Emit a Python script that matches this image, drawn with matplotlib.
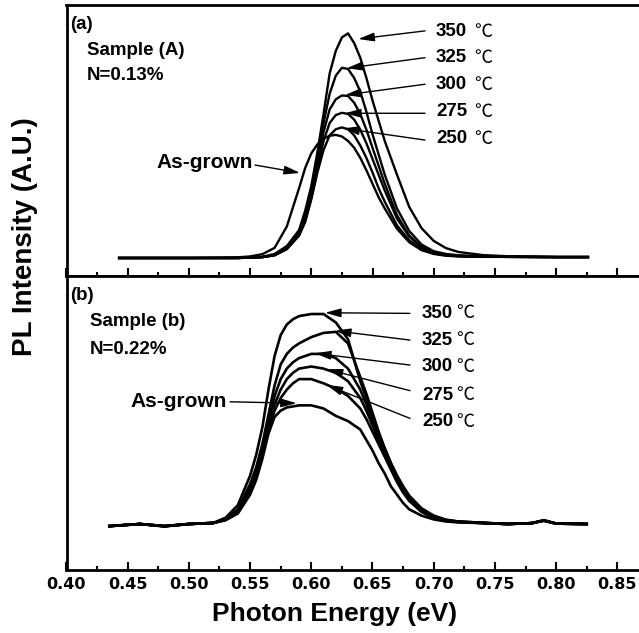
import matplotlib
matplotlib.use('Agg')
import matplotlib.pyplot as plt
from matplotlib.ticker import MultipleLocator

plt.rcParams['font.family'] = ['Liberation Sans', 'DejaVu Sans']
plt.rcParams['font.weight'] = 'bold'

# ---------------- data ----------------
temps = ['350', '325', '300', '275', '250']

# panel (a): Sample (A), N=0.13%
xt = [0.443, 0.50, 0.54, 0.55, 0.56, 0.57, 0.58, 0.59, 0.595, 0.60, 0.605, 0.61,
      0.615, 0.62, 0.625, 0.63, 0.635, 0.64, 0.645, 0.65, 0.655, 0.66, 0.67, 0.68,
      0.69, 0.70, 0.71, 0.72, 0.74, 0.76, 0.80, 0.826]
t350 = [0, 0, 0, 0.002, 0.005, 0.018, 0.053, 0.124, 0.21, 0.32, 0.47, 0.64, 0.82, 0.92,
        0.98, 0.998, 0.955, 0.89, 0.80, 0.70, 0.61, 0.52, 0.37, 0.227, 0.133, 0.076,
        0.044, 0.027, 0.013, 0.008, 0.005, 0.005]
t325 = [0, 0, 0, 0.002, 0.004, 0.014, 0.045, 0.11, 0.18, 0.29, 0.44, 0.60, 0.73, 0.81,
        0.845, 0.84, 0.80, 0.74, 0.65, 0.55, 0.46, 0.37, 0.22, 0.12, 0.06, 0.03, 0.018,
        0.012, 0.008, 0.006, 0.004, 0.004]
t300 = [0, 0, 0, 0.002, 0.004, 0.013, 0.04, 0.105, 0.17, 0.28, 0.42, 0.56, 0.66, 0.705,
        0.722, 0.72, 0.69, 0.64, 0.57, 0.49, 0.41, 0.33, 0.19, 0.10, 0.05, 0.026, 0.015,
        0.01, 0.006, 0.005, 0.004, 0.004]
t275 = [0, 0, 0, 0.002, 0.004, 0.012, 0.04, 0.10, 0.165, 0.27, 0.40, 0.52, 0.60, 0.635,
        0.645, 0.64, 0.615, 0.57, 0.51, 0.44, 0.37, 0.30, 0.175, 0.095, 0.048, 0.024,
        0.014, 0.009, 0.006, 0.005, 0.004, 0.004]
t250 = [0, 0, 0, 0.002, 0.004, 0.012, 0.04, 0.10, 0.16, 0.26, 0.38, 0.48, 0.545, 0.572,
        0.58, 0.572, 0.545, 0.50, 0.445, 0.38, 0.31, 0.25, 0.145, 0.078, 0.04, 0.02,
        0.012, 0.008, 0.006, 0.005, 0.004, 0.004]
tAG = [0, 0, 0.003, 0.007, 0.017, 0.045, 0.14, 0.31, 0.40, 0.465, 0.505, 0.53, 0.543, 0.547,
       0.54, 0.52, 0.49, 0.445, 0.39, 0.33, 0.27, 0.22, 0.13, 0.07, 0.035, 0.018, 0.01,
       0.007, 0.005, 0.005, 0.004, 0.004]

# panel (b): Sample (b), N=0.22%
xb = [0.435, 0.46, 0.48, 0.50, 0.52, 0.53, 0.54, 0.55, 0.555, 0.56, 0.565, 0.57, 0.575,
      0.58, 0.585, 0.59, 0.60, 0.61, 0.62, 0.63, 0.64, 0.645, 0.65, 0.655, 0.66, 0.665,
      0.67, 0.675, 0.68, 0.69, 0.70, 0.71, 0.72, 0.74, 0.76, 0.78, 0.79, 0.80, 0.825]
b350 = [-0.01, 0.0, -0.012, 0.0, 0.005, 0.03, 0.09, 0.23, 0.33, 0.46, 0.64, 0.80, 0.90,
        0.95, 0.975, 0.99, 1.0, 1.0, 0.96, 0.88, 0.68, 0.60, 0.50, 0.43, 0.36, 0.29, 0.23,
        0.175, 0.13, 0.07, 0.038, 0.02, 0.012, 0.006, 0.0, 0.004, 0.018, 0.002, 0.0]
b325 = [-0.01, 0.0, -0.01, 0.0, 0.005, 0.025, 0.07, 0.19, 0.27, 0.38, 0.52, 0.66, 0.76,
        0.81, 0.84, 0.86, 0.89, 0.91, 0.915, 0.86, 0.70, 0.62, 0.53, 0.44, 0.36, 0.29,
        0.23, 0.18, 0.135, 0.075, 0.04, 0.02, 0.012, 0.006, 0.0, 0.004, 0.018, 0.002, 0.0]
b300 = [-0.01, 0.0, -0.01, 0.0, 0.005, 0.022, 0.065, 0.18, 0.26, 0.36, 0.49, 0.61, 0.69,
        0.74, 0.77, 0.79, 0.81, 0.81, 0.79, 0.74, 0.64, 0.57, 0.49, 0.41, 0.34, 0.27,
        0.21, 0.16, 0.12, 0.065, 0.035, 0.018, 0.01, 0.005, 0.0, 0.004, 0.016, 0.002, 0.0]
b275 = [-0.01, 0.0, -0.01, 0.0, 0.005, 0.02, 0.06, 0.17, 0.25, 0.35, 0.47, 0.57, 0.64,
        0.69, 0.72, 0.74, 0.75, 0.74, 0.72, 0.68, 0.60, 0.54, 0.47, 0.40, 0.33, 0.265,
        0.205, 0.155, 0.115, 0.06, 0.032, 0.016, 0.01, 0.005, 0.0, 0.004, 0.016, 0.002, 0.0]
b250 = [-0.01, 0.0, -0.01, 0.0, 0.005, 0.02, 0.055, 0.16, 0.24, 0.34, 0.45, 0.54, 0.60,
        0.64, 0.67, 0.69, 0.69, 0.67, 0.645, 0.61, 0.55, 0.50, 0.44, 0.38, 0.32, 0.26,
        0.20, 0.15, 0.11, 0.058, 0.03, 0.015, 0.009, 0.005, 0.0, 0.004, 0.016, 0.002, 0.0]
bAG = [-0.01, 0.0, -0.01, 0.0, 0.005, 0.018, 0.05, 0.14, 0.21, 0.31, 0.43, 0.51, 0.54,
       0.555, 0.56, 0.565, 0.565, 0.55, 0.515, 0.49, 0.45, 0.40, 0.35, 0.29, 0.24, 0.18,
       0.14, 0.10, 0.07, 0.04, 0.022, 0.012, 0.008, 0.004, 0.0, 0.004, 0.016, 0.002, 0.0]

tick_values = [0.40, 0.45, 0.50, 0.55, 0.60, 0.65, 0.70, 0.75, 0.80, 0.85]
tick_labels = ['0.40', '0.45', '0.50', '0.55', '0.60', '0.65', '0.70', '0.75', '0.80', '0.85']

# ---------------- figure ----------------
W, H = 639, 633
fig = plt.figure(figsize=(W / 100, H / 100), dpi=100)


def rect(l, t, r, b):
    return [l / W, 1 - b / H, (r - l) / W, (b - t) / H]


ax1 = fig.add_axes(rect(66.5, 5, 639, 276))
ax2 = fig.add_axes(rect(66.5, 276, 639, 570))

XMAX = 0.40 + (639 - 66.5) / 1224.0
for ax in (ax1, ax2):
    ax.set_xlim(0.40, XMAX)
    ax.set_yticks([])
    for s in ('left', 'top', 'bottom'):
        ax.spines[s].set_linewidth(2.0)
    ax.spines['right'].set_visible(False)
    ax.xaxis.set_major_locator(MultipleLocator(0.05))
    ax.xaxis.set_minor_locator(MultipleLocator(0.025))
    ax.tick_params(axis='x', which='major', direction='in', length=6, width=1.5, top=False)
    ax.tick_params(axis='x', which='minor', direction='in', length=3, width=1.5, top=False)

ax1.set_ylim(-0.08, 1.124)
ax2.set_ylim(-0.219, 1.181)
ax1.tick_params(axis='x', labelbottom=False)
ax2.set_xticks(tick_values, tick_labels, fontfamily='DejaVu Sans', fontweight='bold', fontsize=11.5)
ax2.tick_params(axis='x', which='major', pad=5)

for ys in (t350, t325, t300, t275, t250, tAG):
    ax1.plot(xt, ys, color='black', lw=1.7, solid_joinstyle='round')
for ys in (b350, b325, b300, b275, b250, bAG):
    ax2.plot(xb, ys, color='black', lw=1.9, solid_joinstyle='round')

arrow = dict(arrowstyle='-|>,head_length=0.8,head_width=0.22', color='black', lw=1.0,
             mutation_scale=12, shrinkA=0, shrinkB=0)

# panel (a) annotations
ax1.text(0.4030, 1.036, '(a)', fontsize=13.5, ha='left', va='center')
ax1.text(0.4167, 0.924, 'Sample (A)', fontsize=13.5, ha='left', va='center')
ax1.text(0.4167, 0.813, 'N=0.13%', fontsize=13.5, ha='left', va='center')
ax1.text(0.5524, 0.425, 'As-grown', fontsize=15, ha='right', va='center')
ax1.annotate('', xy=(0.5908, 0.378), xytext=(0.554, 0.413), arrowprops=arrow)

a_text_y = [1.006, 0.890, 0.769, 0.650, 0.529]
a_tail_y = [1.009, 0.890, 0.772, 0.643, 0.524]
a_tip = [(0.6384, 0.973), (0.6289, 0.843), (0.6275, 0.724), (0.6275, 0.643), (0.6261, 0.576)]
for lab, ty, tly, tip in zip(temps, a_text_y, a_tail_y, a_tip):
    ax1.text(0.7019, ty, lab, fontsize=13.5, ha='left', va='center')
    ax1.text(0.7329, ty, '℃', fontsize=13, ha='left', va='center',
             family=['Noto Sans CJK SC', 'DejaVu Sans'], fontweight='normal')
    ax1.annotate('', xy=tip, xytext=(0.6929, tly), arrowprops=arrow)

# panel (b) annotations
ax2.text(0.4030, 1.090, '(b)', fontsize=13.5, ha='left', va='center')
ax2.text(0.4192, 0.963, 'Sample (b)', fontsize=13.5, ha='left', va='center')
ax2.text(0.4192, 0.829, 'N=0.22%', fontsize=13.5, ha='left', va='center')
ax2.text(0.5311, 0.583, 'As-grown', fontsize=15, ha='right', va='center')
ax2.annotate('', xy=(0.5881, 0.575), xytext=(0.5336, 0.582), arrowprops=arrow)

b_text_y = [1.003, 0.876, 0.749, 0.614, 0.486]
b_tail_y = [1.003, 0.876, 0.757, 0.635, 0.503]
b_tip = [(0.6112, 1.006), (0.6193, 0.920), (0.6030, 0.813), (0.6126, 0.737), (0.6126, 0.662)]
for lab, ty, tly, tip in zip(temps, b_text_y, b_tail_y, b_tip):
    ax2.text(0.6904, ty, lab, fontsize=13.5, ha='left', va='center')
    ax2.text(0.7186, ty, '℃', fontsize=13, ha='left', va='center',
             family=['Noto Sans CJK SC', 'DejaVu Sans'], fontweight='normal')
    ax2.annotate('', xy=tip, xytext=(0.6806, tly), arrowprops=arrow)

fig.text(25 / W, 1 - 237 / H, 'PL Intensity (A.U.)', rotation=90, ha='center', va='center',
         fontsize=20, fontweight='bold')
fig.text(335 / W, 1 - 614 / H, 'Photon Energy (eV)', ha='center', va='center',
         fontsize=19, fontweight='bold')

fig.savefig('out.png', dpi=100)
